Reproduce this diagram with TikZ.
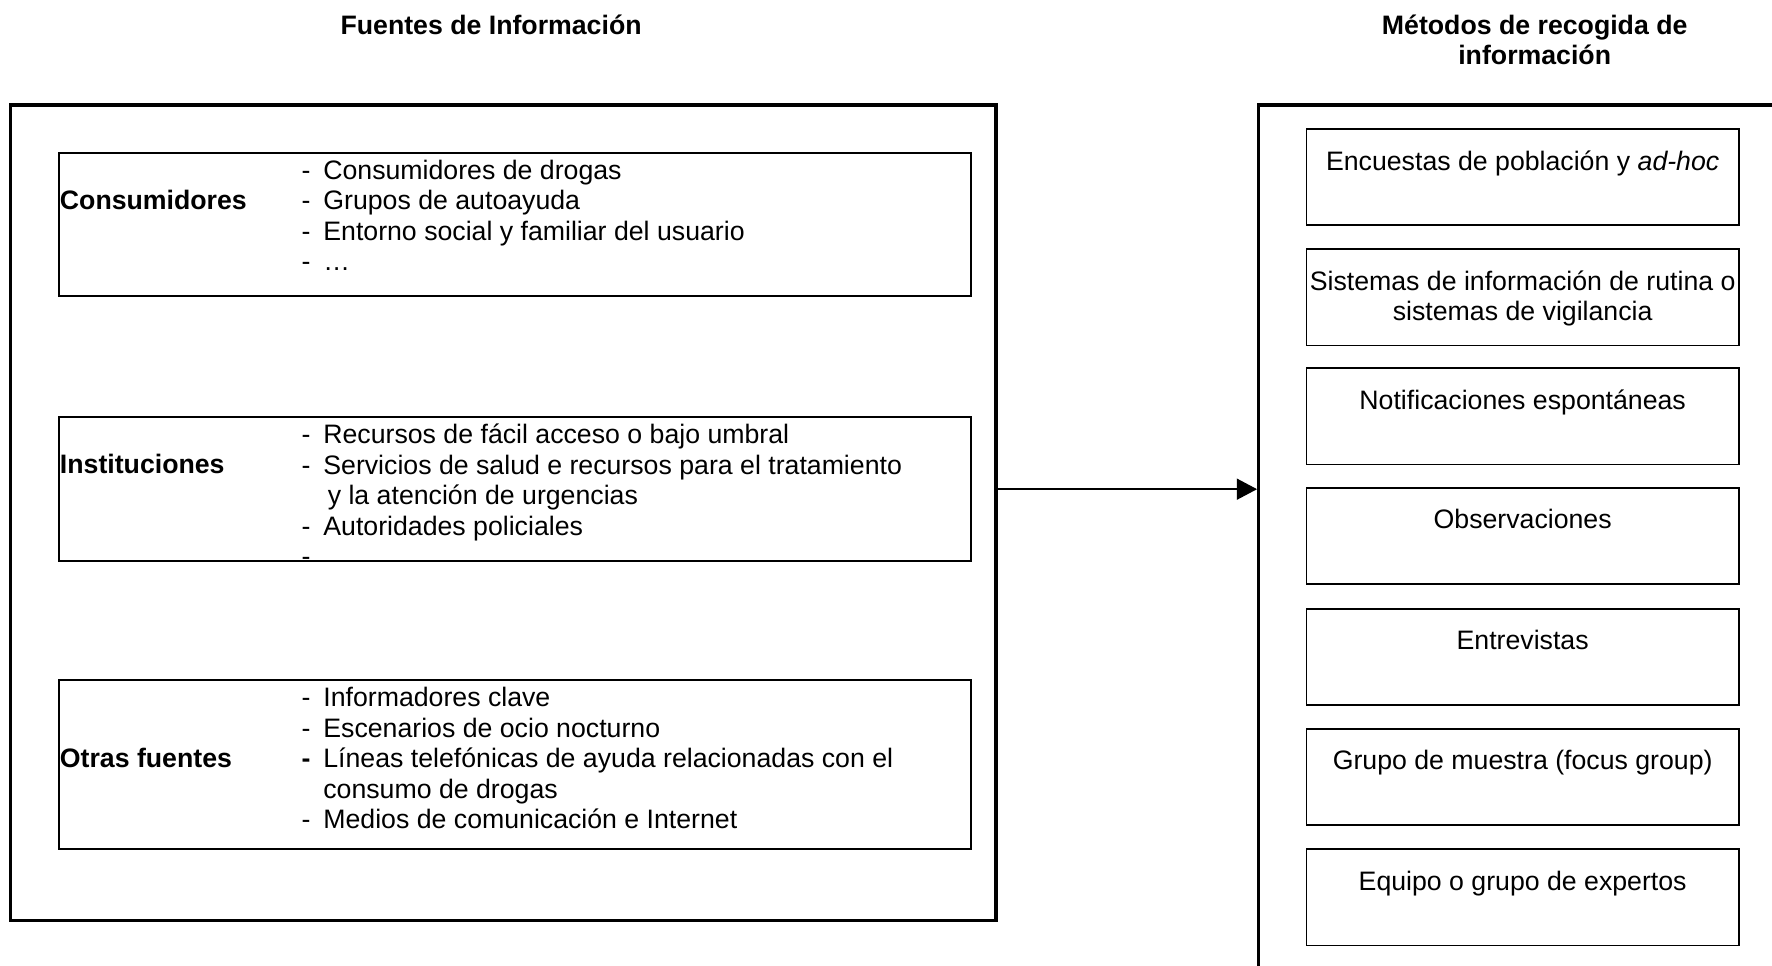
\documentclass[tikz,border=0pt]{standalone}
\usepackage{fontspec}
\setmainfont{Liberation Sans}
\usetikzlibrary{arrows.meta}

\tikzset{
  marco/.style={draw, line width=1.5pt, inner sep=0pt},
  fuente/.style={draw, line width=0.75pt, inner sep=0pt, minimum width=14.41cm},
  metodo/.style={draw, line width=0.75pt, inner sep=0pt, minimum width=6.83cm, minimum height=1.52cm},
  texto/.style={inner sep=0pt, font=\fontsize{12pt}{13.7pt}\selectfont},
  titulo/.style={inner sep=0pt, font=\fontsize{12pt}{13.7pt}\selectfont\bfseries},
}
\newcommand{\lista}[1]{\begin{tabular}[t]{@{}p{9.75pt}@{}l@{}}#1\end{tabular}}
\newcommand{\centrado}[1]{\begin{tabular}[t]{@{}c@{}}#1\end{tabular}}

\begin{document}
\begin{tikzpicture}
    \useasboundingbox (0,0) rectangle (28.0,15.25);
    % titulos
    \node[titulo, anchor=base] (tfuentes) at (7.76,14.71) {Fuentes de Información};
    \node[titulo, anchor=base] (tmetodos) at (24.25,14.71) {\centrado{Métodos de recogida de\\información}};
    % marcos
    \node[marco, minimum width=15.57cm, minimum height=12.89cm] (fuentes) at (7.955,7.145) {};
    \node[marco, minimum width=8.61cm, minimum height=14.09cm] (metodos) at (24.195,6.545) {};
    % fuentes de informacion
    \node[fuente, minimum height=2.26cm] (cons) at (8.135,11.70) {};
    \node[fuente, minimum height=2.28cm] (inst) at (8.135,7.52) {};
    \node[fuente, minimum height=2.67cm] (otras) at (8.135,3.165) {};
    \node[titulo, anchor=base west] (consL) at (0.94,11.94) {Consumidores};
    \node[titulo, anchor=base west] (instL) at (0.94,7.76) {Instituciones};
    \node[titulo, anchor=base west] (otrasL) at (0.94,3.12) {Otras fuentes};
    \node[texto, anchor=base west] (consT) at (4.76,12.42) {\lista{
        - & Consumidores de drogas\\
        - & Grupos de autoayuda\\
        - & Entorno social y familiar del usuario\\
        - & …}};
    \node[texto, anchor=base west] (instT) at (4.76,8.24) {\lista{
        - & Recursos de fácil acceso o bajo umbral\\
        - & Servicios de salud e recursos para el tratamiento\\
          & \hspace{2pt}y la atención de urgencias\\
        - & Autoridades policiales\\
        - & }};
    \node[texto, anchor=base west] (otrasT) at (4.76,4.08) {\lista{
        - & Informadores clave\\
        - & Escenarios de ocio nocturno\\
        \textbf{-} & Líneas telefónicas de ayuda relacionadas con el\\
          & consumo de drogas\\
        - & Medios de comunicación e Internet}};
    % metodos de recogida
    \node[metodo] (enc) at (24.06,12.45) {};
    \node[metodo] (sis) at (24.06,10.55) {};
    \node[metodo] (noti) at (24.06,8.67) {};
    \node[metodo] (obs) at (24.06,6.78) {};
    \node[metodo] (ent) at (24.06,4.87) {};
    \node[metodo] (grupo) at (24.06,2.97) {};
    \node[metodo] (exp) at (24.06,1.07) {};
    \node[texto, anchor=base] (encT) at ([yshift=-6.6mm]enc.north) {Encuestas de población y \textit{ad-hoc}};
    \node[texto, anchor=base] (sisT) at ([yshift=-6.6mm]sis.north) {\centrado{Sistemas de información de rutina o\\sistemas de vigilancia}};
    \node[texto, anchor=base] (notiT) at ([yshift=-6.6mm]noti.north) {Notificaciones espontáneas};
    \node[texto, anchor=base] (obsT) at ([yshift=-6.6mm]obs.north) {Observaciones};
    \node[texto, anchor=base] (entT) at ([yshift=-6.6mm]ent.north) {Entrevistas};
    \node[texto, anchor=base] (grupoT) at ([yshift=-6.6mm]grupo.north) {Grupo de muestra (focus group)};
    \node[texto, anchor=base] (expT) at ([yshift=-6.6mm]exp.north) {Equipo o grupo de expertos};
    \draw[-{Triangle[length=3.2mm,width=3.3mm]}, line width=0.9pt] (fuentes.east |- inst) to (metodos.west |- inst);
\end{tikzpicture}
\end{document}
